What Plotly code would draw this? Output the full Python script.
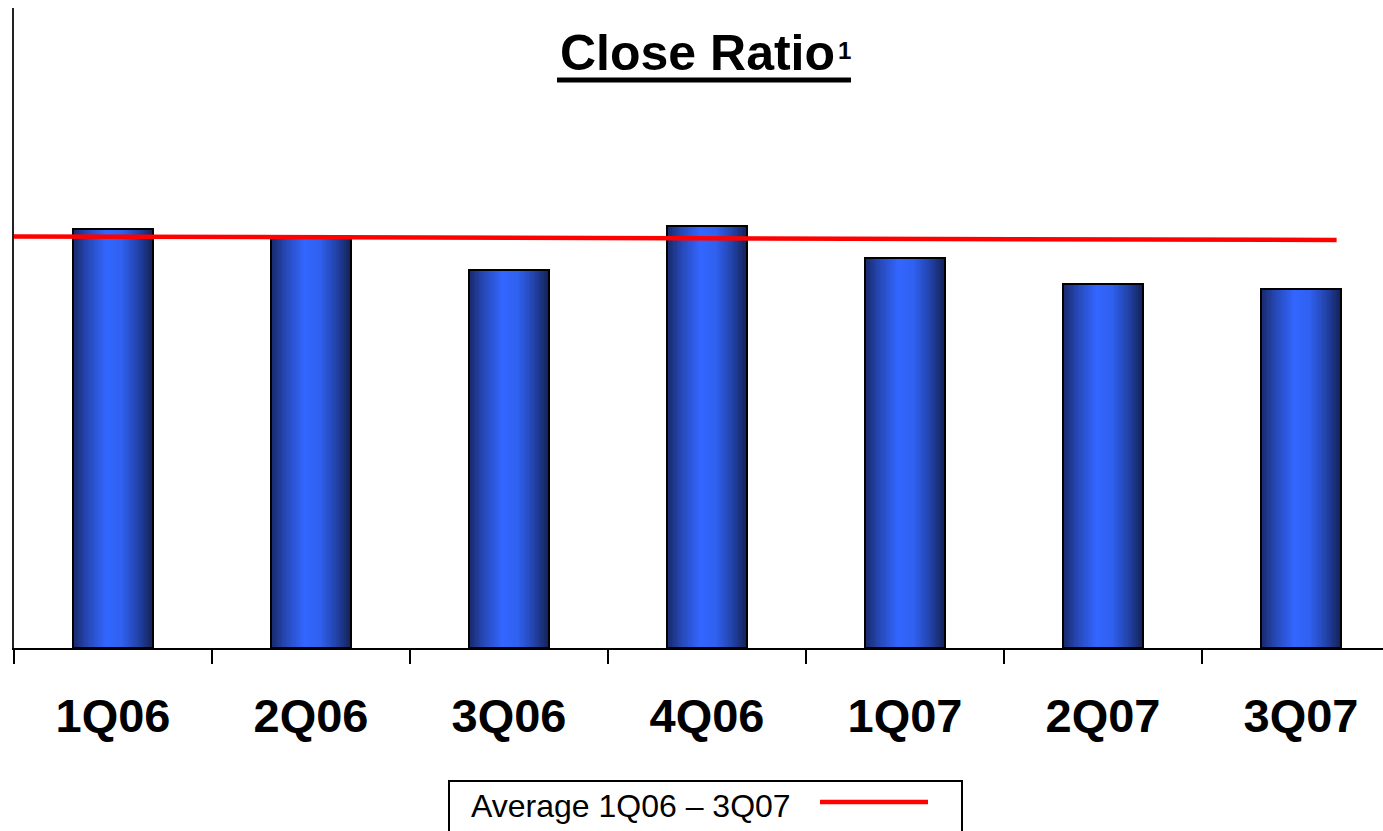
import plotly.graph_objects as go

# Quarterly close ratio
quarters = ["1Q06", "2Q06", "3Q06", "4Q06", "1Q07", "2Q07", "3Q07"]
close_ratio = [20.95, 20.55, 18.9, 21.1, 19.5, 18.2, 17.95]

# Average reference line (category-axis x, value y)
avg_line_x = [-0.52, 6.18]
avg_line_y = [20.58, 20.40]
avg_label = "Average 1Q06 \u2013 3Q07"

FONT = "Arial, Liberation Sans, sans-serif"
BAR_W = 0.404
N_STRIPS = 48

# horizontal shading across each bar: dark edges, bright blue core
stops = [
    (0.00, (24, 40, 104)),
    (0.18, (38, 72, 180)),
    (0.42, (51, 102, 255)),
    (0.62, (47, 96, 238)),
    (0.82, (33, 66, 168)),
    (1.00, (20, 34, 88)),
]


def shade(t):
    for (t0, c0), (t1, c1) in zip(stops[:-1], stops[1:]):
        if t <= t1:
            f = (t - t0) / (t1 - t0)
            return "rgb(%d,%d,%d)" % tuple(round(a + (b - a) * f) for a, b in zip(c0, c1))
    return "rgb(%d,%d,%d)" % stops[-1][1]


def px_x(p):
    return (p - 14) / 1369


def px_y(p):
    return (648 - p) / 640


xpos = list(range(len(quarters)))
fig = go.Figure()

strip = BAR_W / N_STRIPS
for i in range(N_STRIPS):
    fig.add_trace(go.Bar(
        x=xpos, y=close_ratio,
        width=strip * 1.6,
        offset=-BAR_W / 2 + i * strip - (0.3 * strip if i else 0),
        marker=dict(color=shade((i + 0.5) / N_STRIPS), line=dict(width=0)),
        showlegend=False, hoverinfo="skip",
    ))

# bar outlines
fig.add_trace(go.Bar(
    x=xpos, y=close_ratio, width=BAR_W, offset=-BAR_W / 2,
    marker=dict(color="rgba(0,0,0,0)", line=dict(color="black", width=2)),
    showlegend=False, hovertemplate="%{y}<extra></extra>",
))

fig.add_trace(go.Scatter(
    x=avg_line_x, y=avg_line_y, mode="lines",
    line=dict(color="#ff0000", width=4.5),
    name=avg_label, showlegend=False, cliponaxis=False,
))

fig.update_layout(
    width=1383, height=831,
    margin=dict(l=14, r=0, t=8, b=183),
    paper_bgcolor="white", plot_bgcolor="white",
    barmode="overlay", bargap=0,
    font=dict(family=FONT, color="black"),
    xaxis=dict(
        range=[-0.5, -0.5 + 1369 / 198],
        tickmode="array", tickvals=xpos, ticktext=quarters,
        ticks="", showgrid=False, zeroline=False,
        showline=True, linecolor="black", linewidth=1.5,
        tickfont=dict(family=FONT, size=47, color="black", weight="bold"),
        ticklabelstandoff=26,
        minor=dict(tickmode="array", tickvals=[v - 0.5 for v in xpos],
                   ticks="outside", ticklen=14, tickwidth=1.5, tickcolor="black"),
        fixedrange=True,
    ),
    yaxis=dict(
        range=[0, 32], showticklabels=False, ticks="", showgrid=False,
        zeroline=False, showline=True, linecolor="#222222", linewidth=1.5,
        fixedrange=True,
    ),
)

# title, its note marker and underline
fig.add_annotation(
    xref="paper", yref="paper", x=px_x(697), y=px_y(53),
    text="<b>Close Ratio</b>", showarrow=False,
    font=dict(family=FONT, size=50, color="black"),
    xanchor="center", yanchor="middle",
)
fig.add_annotation(
    xref="paper", yref="paper", x=px_x(836), y=px_y(50),
    text="<b>1</b>", showarrow=False,
    font=dict(family=FONT, size=24, color="black"),
    xanchor="left", yanchor="middle",
)
fig.add_shape(type="line", xref="paper", yref="paper",
              x0=px_x(557), x1=px_x(851), y0=px_y(80), y1=px_y(80),
              line=dict(color="black", width=5))

# legend box
fig.add_shape(type="rect", xref="paper", yref="paper",
              x0=px_x(449), x1=px_x(962), y0=px_y(781), y1=px_y(840),
              line=dict(color="black", width=2), fillcolor="white")
fig.add_annotation(
    xref="paper", yref="paper", x=px_x(469), y=px_y(806),
    text=avg_label, showarrow=False, xanchor="left", yanchor="middle",
    font=dict(family=FONT, size=32, color="black"),
)
fig.add_shape(type="line", xref="paper", yref="paper",
              x0=px_x(820), x1=px_x(928), y0=px_y(802), y1=px_y(802),
              line=dict(color="#ff0000", width=4.5))

fig.write_html("out.html")
